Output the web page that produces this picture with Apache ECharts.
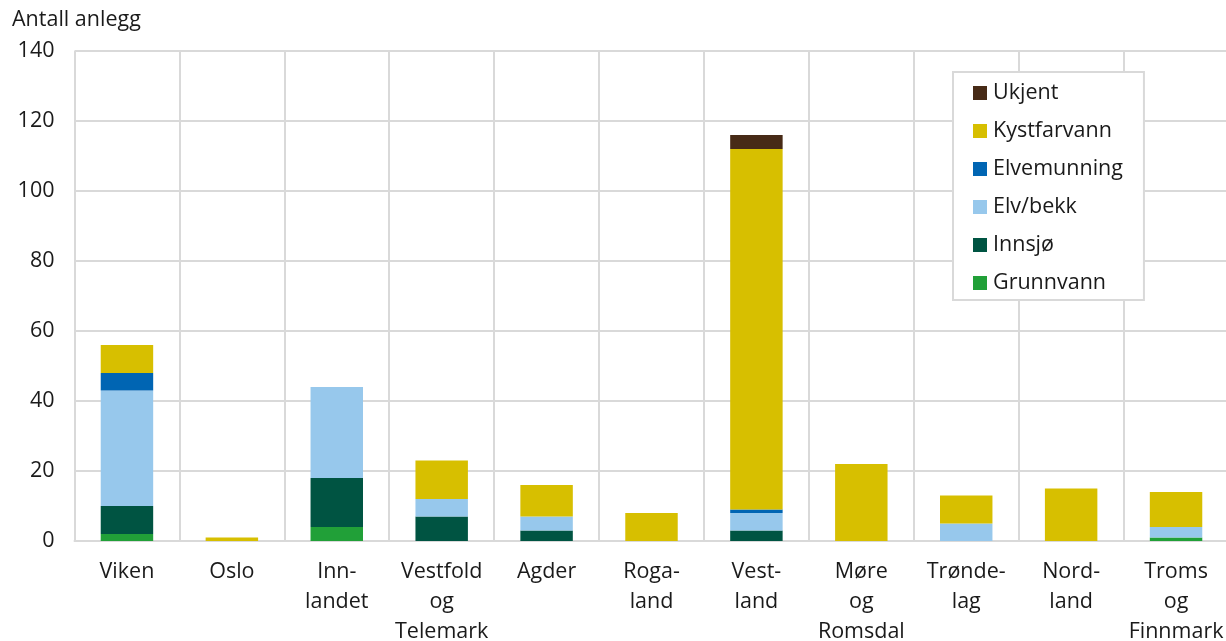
<!DOCTYPE html>
<html><head><meta charset="utf-8">
<script src="https://cdn.jsdelivr.net/npm/echarts@6/dist/echarts.min.js"></script>
<style>html,body{margin:0;padding:0;background:#fff}#c{width:1226px;height:641px}</style>
</head><body><div id="c"></div>
<script>
const categories = ["Viken","Oslo","Inn-\nlandet","Vestfold\nog\nTelemark","Agder","Roga-\nland","Vest-\nland","Møre\nog\nRomsdal","Trønde-\nlag","Nord-\nland","Troms\nog\nFinnmark"];
const grunnvann   = [2,0,4,0,0,0,0,0,0,0,1];
const innsjo      = [8,0,14,7,3,0,3,0,0,0,0];
const elvBekk     = [33,0,26,5,4,0,5,0,5,0,3];
const elvemunning = [5,0,0,0,0,0,1,0,0,0,0];
const kystfarvann = [8,1,0,11,9,8,103,22,8,15,10];
const ukjent      = [0,0,0,0,0,0,4,0,0,0,0];
const yTicks = [0,20,40,60,80,100,120,140];

const seriesDefs = [
  ["Grunnvann", grunnvann, "#21a038"],
  ["Innsjø", innsjo, "#005442"],
  ["Elv/bekk", elvBekk, "#97c8ec"],
  ["Elvemunning", elvemunning, "#0065b3"],
  ["Kystfarvann", kystfarvann, "#d7bf00"],
  ["Ukjent", ukjent, "#472a16"]
];
const font = "'Open Sans', sans-serif";
const fs = 21.5;
const chart = echarts.init(document.getElementById('c'));
chart.setOption({
  animation:false,
  textStyle:{fontFamily:font},
  grid:{left:74.5,right:-2.5,top:51,bottom:100,containLabel:false,outerBoundsMode:'none'},
  title:{text:"Antall anlegg",left:12,top:9,padding:0,textStyle:{fontFamily:font,fontSize:fs,fontWeight:'normal',color:'#1a1a1a'}},
  legend:{
    data:["Ukjent","Kystfarvann","Elvemunning","Elv/bekk","Innsjø","Grunnvann"],
    orient:'vertical',left:953,top:72,width:150,
    padding:[10,21,6,20],itemGap:16,itemWidth:14,itemHeight:14,
    backgroundColor:'#fff',borderColor:'#d9d9d9',borderWidth:2,
    icon:'rect',
    textStyle:{fontFamily:font,fontSize:fs,color:'#1a1a1a',lineHeight:20,padding:[0,0,0,1]}
  },
  xAxis:{
    type:'category',data:categories,boundaryGap:true,
    axisLine:{show:true,lineStyle:{color:'#d9d9d9',width:2}},
    axisTick:{show:false},
    splitLine:{show:true,interval:0,lineStyle:{color:'#d9d9d9',width:2}},
    axisLabel:{interval:0,fontFamily:font,fontSize:fs,color:'#1a1a1a',lineHeight:30,margin:16}
  },
  yAxis:{
    type:'value',min:0,max:140,interval:20,
    axisLine:{show:false},axisTick:{show:false},
    splitLine:{lineStyle:{color:'#d9d9d9',width:2}},
    axisLabel:{fontFamily:font,fontSize:fs,color:'#1a1a1a',margin:20,
      formatter:v=>yTicks.includes(v)?String(v):''}
  },
  series:seriesDefs.map(([name,data,color])=>({
    name,type:'bar',stack:'t',data,barWidth:'50%',
    itemStyle:{color},
    emphasis:{disabled:true}
  }))
});
</script></body></html>
